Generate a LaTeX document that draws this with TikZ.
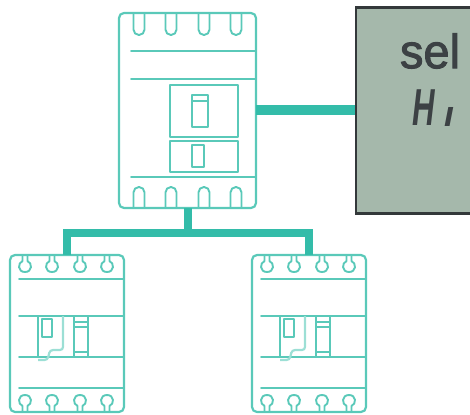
\documentclass[tikz,border=0pt]{standalone}
\usepackage{fontspec}
\setmainfont{Liberation Sans}
\newfontfamily\seldisp[FakeBold=2]{Liberation Sans}
\tikzset{
  x=1pt,y=-1pt,
  part/.style={draw=partteal,line width=1.9pt,line cap=round,line join=round},
  faint/.style={draw=partteal!60,line width=2.2pt},
  bigbreaker/.style={part,line width=2.2pt,rounded corners=5pt,minimum width=137pt,minimum height=195pt,inner sep=0pt,outer sep=0pt},
  smallbreaker/.style={part,line width=2.2pt,rounded corners=5pt,minimum width=114pt,minimum height=157pt,inner sep=0pt,outer sep=0pt},
  relay/.style={draw=relayedge,fill=relayfill,line width=2.2pt,minimum width=119pt,minimum height=206pt,inner sep=0pt,outer sep=0pt},
  link/.style={draw=linkteal,line join=miter},
  disp/.style={text=dispdark,inner sep=0pt,outer sep=0pt}
}
\definecolor{partteal}{HTML}{5AC9B9}
\definecolor{linkteal}{HTML}{33BCA9}
\definecolor{relayfill}{HTML}{A5B8AB}
\definecolor{relayedge}{HTML}{33383A}
\definecolor{dispdark}{HTML}{3C4144}
\begin{document}
\begin{tikzpicture}
\useasboundingbox (0,0) rectangle (470,414);
\clip (0,0) rectangle (470,414);
% nodes
\node[bigbreaker] (mainb) at (187.5,110.5) {};
\node[smallbreaker] (lb) at (67,333.5) {};
\node[smallbreaker] (rb) at (309,333.5) {};
% connectors
\coordinate (bus) at (187.5,233);
\path (415.5,110.5) coordinate (selc);
\draw[link,line width=10pt] (mainb.east) -- (selc);
\draw[link,line width=8pt] (mainb.south) -- (bus);
\draw[link,line width=8pt] (lb.north) |- (bus) -| (rb.north);
\node[relay] (sel) at (selc) {};
\node[disp,font=\fontsize{47}{47}\seldisp,yscale=1.02] (seltext) at (430,51) {sel};
\node[disp,font=\fontsize{52}{52}\selectfont\bfseries\itshape,xscale=.6] (hi) at (423.5,108) {H};
\node[disp,font=\fontsize{36}{36}\selectfont\bfseries\itshape,anchor=base] (one) at (449,127) {ı};
% big breaker details
\foreach \cx in {139,171,204,236}{
  \draw[part,rounded corners=5.4pt] (\cx-5.5,13) -- (\cx-5.5,35) -- (\cx+5.5,35) -- (\cx+5.5,13);
  \draw[part,rounded corners=5.4pt] (\cx-5.5,208) -- (\cx-5.5,187) -- (\cx+5.5,187) -- (\cx+5.5,208);
}
\foreach \ly in {51,79,177}{ \draw[part] (131,\ly) -- (256,\ly); }
\draw[part] (170,85) rectangle (238,137);
\draw[part] (170,141) rectangle (238,172);
\draw[part] (192,95) rectangle (208,127);
\draw[part] (192,101) -- (208,101);
\draw[part] (192,145) rectangle (204,167);
% small breakers
\foreach \ox in {0,242}{
\begin{scope}[shift={(\ox,0)}]
  \foreach \cx in {25,52,80,107}{
    \draw[part] (\cx-2.5,255) -- (\cx-2.5,261) .. controls (\cx-7.5,263) and (\cx-7.5,272) .. (\cx,272) .. controls (\cx+7.5,272) and (\cx+7.5,263) .. (\cx+2.5,261) -- (\cx+2.5,255);
    \draw[part] (\cx-2.5,412) -- (\cx-2.5,406) .. controls (\cx-7.5,404) and (\cx-7.5,395) .. (\cx,395) .. controls (\cx+7.5,395) and (\cx+7.5,404) .. (\cx+2.5,406) -- (\cx+2.5,412);
  }
  \foreach \ly in {279,316,357,388}{ \draw[part] (19,\ly) -- (124,\ly); }
  \draw[part] (38,316) -- (38,357);
  \draw[part] (42,319) rectangle (52,337);
  \draw[faint,rounded corners=3pt] (63,316) -- (63,350) -- (50,350) -- (47.5,360) -- (38,360);
  \draw[part] (74,316) -- (74,357);
  \draw[part] (88,316) -- (88,357);
  \draw[part] (74,322) -- (88,322);
  \draw[part] (74,327) -- (88,327);
  \draw[part] (74,352) -- (88,352);
\end{scope}
}
\end{tikzpicture}
\end{document}
